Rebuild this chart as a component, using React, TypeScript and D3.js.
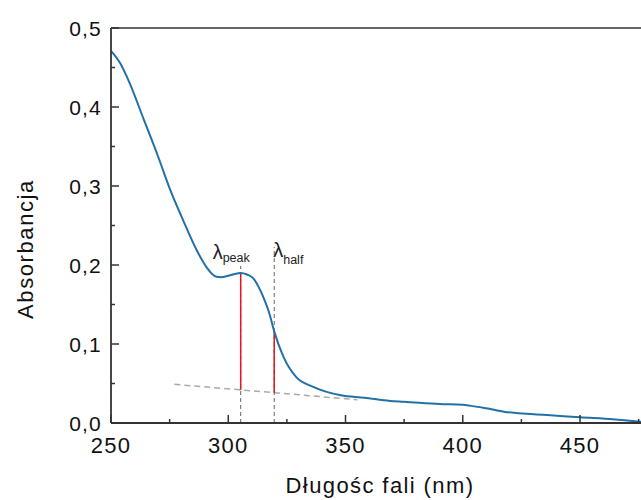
import React from "react";
import * as d3 from "d3";

// spectrum
const wavelength = [
  250, 254, 258, 264, 270, 275, 281, 286.5, 291, 293, 295, 297, 299.5, 302,
  305.3, 308, 310.7, 313, 315, 317.5, 319.6, 323.5, 329, 336, 348, 358, 369,
  375, 390, 400, 403, 410, 418, 424, 436, 450, 464, 476,
];
const absorbance = [
  0.471, 0.455, 0.43, 0.384, 0.338, 0.297, 0.255, 0.219, 0.196, 0.189, 0.185,
  0.1845, 0.186, 0.188, 0.19, 0.188, 0.183, 0.172, 0.159, 0.139, 0.116, 0.084,
  0.058, 0.046, 0.035, 0.032, 0.028, 0.027, 0.024, 0.023, 0.022, 0.0186, 0.014,
  0.0123, 0.0101, 0.0072, 0.0047, 0.0016,
];

// baseline (dashed) and markers
const baselineX = [277, 355];
const baselineY = [0.049, 0.0295];
const peakX = 305.3;
const peakY = 0.19;
const halfX = 319.6;
const halfY = 0.116;

const xTicks = [250, 300, 350, 400, 450];
const xMinor = [275, 325, 375, 425, 475];
const yTicks = [0, 0.1, 0.2, 0.3, 0.4, 0.5];
const yMinor = [0.05, 0.15, 0.25, 0.35, 0.45];

const W = 641;
const H = 500;
const margin = { left: 111, top: 28, right: 0, bottom: 77 };
const font = "'Liberation Sans', Arial, sans-serif";

export default function App() {
  const x = d3.scaleLinear().domain([250, 476]).range([margin.left, W]);
  const y = d3.scaleLinear().domain([0, 0.5]).range([H - margin.bottom, margin.top]);
  const base = d3.scaleLinear().domain(baselineX).range(baselineY);
  const fmt = (v: number) => d3.format(".1f")(v).replace(".", ",");

  const pts = wavelength.map((w, i) => [w, absorbance[i]] as [number, number]);
  const line = d3
    .line<[number, number]>()
    .x((d) => x(d[0]))
    .y((d) => y(d[1]))
    .curve(d3.curveMonotoneX);

  const y0 = y(0);
  const axisColor = "#333";

  return (
    <div style={{ position: "absolute", left: 0, top: 0 }}>
      <svg width={W} height={H} style={{ display: "block", background: "#fff" }}>
        {/* baseline */}
        <line
          x1={x(baselineX[0])}
          y1={y(baselineY[0])}
          x2={x(baselineX[1])}
          y2={y(baselineY[1])}
          stroke="#aaa"
          strokeWidth={1.5}
          strokeDasharray="6,4"
        />
        {/* vertical guides */}
        <line x1={x(peakX)} x2={x(peakX)} y1={y0} y2={266} stroke="#666" strokeWidth={1} strokeDasharray="4,3" />
        <line x1={x(halfX)} x2={x(halfX)} y1={y0} y2={247} stroke="#666" strokeWidth={1} strokeDasharray="4,3" />
        <line x1={x(peakX)} x2={x(peakX)} y1={y(peakY)} y2={y(base(peakX))} stroke="#e3141c" strokeWidth={1.5} />
        <line x1={x(halfX)} x2={x(halfX)} y1={y(halfY)} y2={y(base(halfX))} stroke="#e3141c" strokeWidth={1.5} />

        {/* spectrum */}
        <path d={line(pts) || ""} fill="none" stroke="#2370a8" strokeWidth={2} />

        {/* labels */}
        <text x={x(peakX) - 28} y={259} fontFamily={font} fill="#222">
          <tspan fontSize={20}>λ</tspan>
          <tspan fontSize={12.5} dy={3}>peak</tspan>
        </text>
        <text x={x(halfX) - 1} y={257} fontFamily={font} fill="#222">
          <tspan fontSize={20}>λ</tspan>
          <tspan fontSize={12.5} dy={7}>half</tspan>
        </text>

        {/* spines */}
        <line x1={margin.left} x2={W} y1={margin.top} y2={margin.top} stroke={axisColor} strokeWidth={1.6} />
        <line x1={margin.left} x2={W} y1={y0} y2={y0} stroke={axisColor} strokeWidth={1.8} />
        <line x1={margin.left} x2={margin.left} y1={margin.top} y2={y0} stroke={axisColor} strokeWidth={1.8} />

        {/* x ticks */}
        {xTicks.map((t) => (
          <g key={"xt" + t}>
            <line x1={x(t)} x2={x(t)} y1={y0} y2={y0 - 8} stroke={axisColor} strokeWidth={1.5} />
            <text
              x={x(t)}
              y={y0 + 30}
              textAnchor="middle"
              fontFamily={font}
              fontSize={22}
              letterSpacing={1.2}
              fill="#111"
            >
              {t}
            </text>
          </g>
        ))}
        {xMinor.map((t) => (
          <line key={"xm" + t} x1={x(t)} x2={x(t)} y1={y0} y2={y0 - 4} stroke={axisColor} strokeWidth={1.5} />
        ))}

        {/* y ticks */}
        {yTicks.map((t) => (
          <g key={"yt" + t}>
            <line x1={margin.left} x2={margin.left + 8} y1={y(t)} y2={y(t)} stroke={axisColor} strokeWidth={1.5} />
            <text
              x={margin.left - 9}
              y={y(t) + 7.5}
              textAnchor="end"
              fontFamily={font}
              fontSize={21}
              letterSpacing={1.2}
              fill="#111"
            >
              {fmt(t)}
            </text>
          </g>
        ))}
        {yMinor.map((t) => (
          <line key={"ym" + t} x1={margin.left} x2={margin.left + 4} y1={y(t)} y2={y(t)} stroke={axisColor} strokeWidth={1.5} />
        ))}

        {/* axis titles */}
        <text x={380} y={493} textAnchor="middle" fontFamily={font} fontSize={22} letterSpacing={1.4} fill="#111">
          Długośc fali (nm)
        </text>
        <text
          transform="translate(33,249) rotate(-90)"
          textAnchor="middle"
          fontFamily={font}
          fontSize={22}
          letterSpacing={1.6}
          fill="#111"
        >
          Absorbancja
        </text>
      </svg>
    </div>
  );
}
